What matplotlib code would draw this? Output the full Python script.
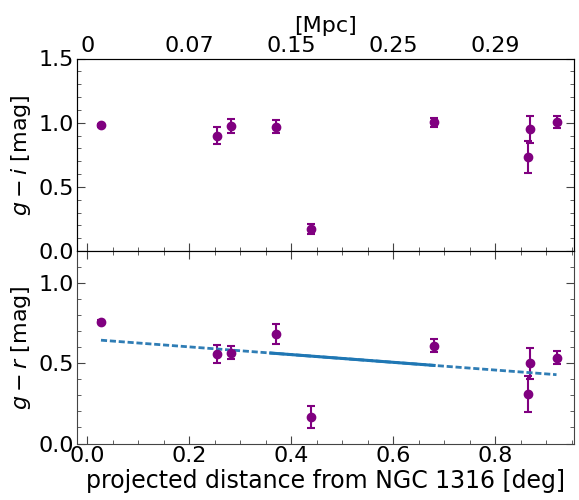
import matplotlib
matplotlib.use("Agg")
import matplotlib.pyplot as plt
from matplotlib.ticker import MultipleLocator
import numpy as np

# Data
dist_deg = [0.027, 0.255, 0.281, 0.370, 0.439, 0.680, 0.864, 0.868, 0.920]
g_i = [0.98, 0.90, 0.975, 0.97, 0.17, 1.005, 0.73, 0.95, 1.003]
g_i_err = [0.01, 0.07, 0.055, 0.05, 0.04, 0.035, 0.124, 0.105, 0.047]
g_r = [0.76, 0.56, 0.565, 0.685, 0.165, 0.61, 0.31, 0.50, 0.535]
g_r_err = [0.01, 0.057, 0.04, 0.062, 0.068, 0.039, 0.113, 0.097, 0.04]

# Linear fit line: endpoints of dashed and solid segments
fit_dash_x = [0.027, 0.920]
fit_dash_y = [0.644, 0.429]
fit_solid_x = [0.36, 0.68]

top_tick_pos = [0.0, 0.2, 0.4, 0.6, 0.8]
top_tick_labels = ["0", "0.07", "0.15", "0.25", "0.29"]

plt.rcParams['font.size'] = 16

fig = plt.figure(figsize=(5.79, 5.0), dpi=100)
left, right, bottom, top = 0.133, 0.992, 0.113, 0.883
h = (top - bottom) / 2
ax1 = fig.add_axes([left, bottom + h, right - left, h])
ax2 = fig.add_axes([left, bottom, right - left, h], sharex=ax1)

purple = "#800080"
ax1.errorbar(dist_deg, g_i, yerr=g_i_err, fmt='o', color=purple, ms=6,
             capsize=3, elinewidth=1.5, capthick=1.5)
ax2.errorbar(dist_deg, g_r, yerr=g_r_err, fmt='o', color=purple, ms=6,
             capsize=3, elinewidth=1.5, capthick=1.5)

slope = (fit_dash_y[1] - fit_dash_y[0]) / (fit_dash_x[1] - fit_dash_x[0])
xs = np.array(fit_solid_x)
ys = fit_dash_y[0] + slope * (xs - fit_dash_x[0])
ax2.plot(fit_dash_x, fit_dash_y, '--', color='#2f7db5', lw=2, dashes=(2.2, 1.0))
ax2.plot(xs, ys, '-', color='#1f77b4', lw=2.2)

ax1.set_xlim(-0.02, 0.955)
ax1.set_ylim(0, 1.5)
ax2.set_ylim(0, 1.2)

for ax in (ax1, ax2):
    ax.xaxis.set_major_locator(MultipleLocator(0.2))
    ax.xaxis.set_minor_locator(MultipleLocator(0.05))
    ax.yaxis.set_major_locator(MultipleLocator(0.5))
    ax.yaxis.set_minor_locator(MultipleLocator(0.1))
    ax.tick_params(which='both', direction='in', top=True, right=True,
                   color='#444444', pad=2)
    ax.tick_params(which='major', length=6)
    ax.tick_params(which='minor', length=3)
    for s in ax.spines.values():
        s.set_color('#444444')

ax1.tick_params(labelbottom=False)
ax1.set_yticks([0.0, 0.5, 1.0, 1.5])
ax2.set_yticks([0.0, 0.5, 1.0])

ax1.set_ylabel(r"$g-i$ [mag]", labelpad=4)
ax2.set_ylabel(r"$g-r$ [mag]", labelpad=4)
ax2.set_xlabel("projected distance from NGC 1316 [deg]", labelpad=2,
               fontsize=17)

axt = ax1.twiny()
axt.set_xlim(ax1.get_xlim())
axt.set_xticks(top_tick_pos)
axt.set_xticklabels(top_tick_labels)
axt.tick_params(which='both', direction='in', length=0, pad=2)
axt.set_xlabel("[Mpc]", labelpad=3)

fig.savefig("out.png", dpi=100)
